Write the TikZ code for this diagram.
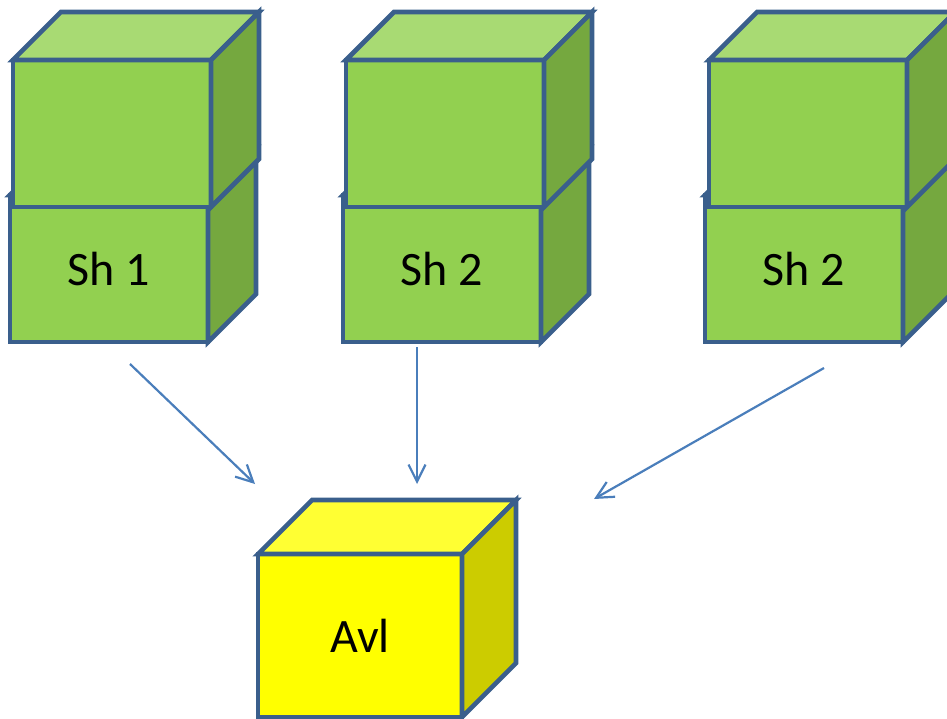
\documentclass[tikz,border=0pt]{standalone}
\usepackage{fontspec}
\setmainfont{Carlito}
\usetikzlibrary{positioning, arrows.meta, calc}

\definecolor{edgeblue}{HTML}{3A5F8C}
\definecolor{arrowblue}{HTML}{4A7EBB}
\definecolor{grfront}{HTML}{92D050}
\definecolor{grtop}{HTML}{A8DA73}
\definecolor{grside}{HTML}{75A83F}
\definecolor{ylfront}{HTML}{FFFF00}
\definecolor{yltop}{HTML}{FFFF33}
\definecolor{ylside}{HTML}{CCCC00}

% name, x, y (front top left), width, height, depth, colour prefix, label
\newcommand{\cubebox}[8]{%
  \node[frontface, fill=#7front, minimum width=#4, minimum height=#5] (#1) at (#2,#3) {#8};
  \draw[edge, fill=#7top] (#1.north west) -- ++(#6,-#6) -- ++(#4,0) -- (#1.north east) -- cycle;
  \draw[edge, fill=#7side] (#1.north east) -- ++(#6,-#6) -- ++(0,#5) -- (#1.south east) -- cycle;
}

\begin{document}
\begin{tikzpicture}[x=1pt, y=-1pt,
        edge/.style={draw=edgeblue, line width=4.6pt},
        frontface/.style={edge, anchor=north west, inner sep=0pt, outer sep=0pt,
          font=\fontsize{48}{54}\selectfont},
        flow/.style={draw=arrowblue, line width=2.2pt,
          -{Straight Barb[length=17pt, width=17pt]}}]
    \clip (0,0) rectangle (947,719);

    % stacks of shards
    \cubebox{sh1}{10}{195}{198}{147}{48}{gr}{Sh 1}
    \cubebox{sh1top}{13}{60}{198}{147}{48}{gr}{}
    \cubebox{sh2}{343}{195}{198}{147}{48}{gr}{Sh 2}
    \cubebox{sh2top}{346}{60}{198}{147}{48}{gr}{}
    \cubebox{sh3}{705}{195}{198}{147}{48}{gr}{Sh 2}
    \cubebox{sh3top}{709}{60}{198}{147}{48}{gr}{}

    % result
    \cubebox{avl}{258}{554}{204}{163}{54}{yl}{Avl}

    \coordinate (out1) at (130,364);
    \coordinate (in1) at (255,484);
    \coordinate (out2) at (417,347);
    \coordinate (in2) at (417,484);
    \coordinate (out3) at (824,368);
    \coordinate (in3) at (594,499);

    \draw[flow] (out1) -- (in1);
    \draw[flow] (out2) -- (in2);
    \draw[flow] (out3) -- (in3);
\end{tikzpicture}
\end{document}
